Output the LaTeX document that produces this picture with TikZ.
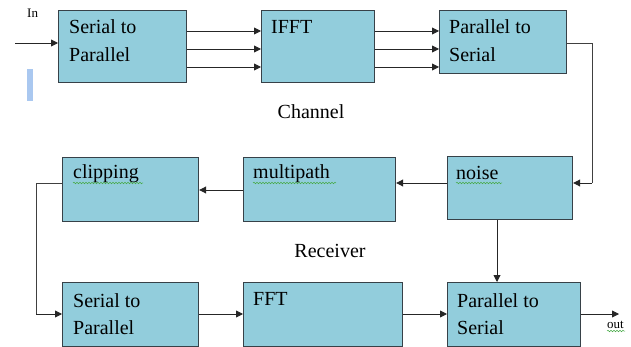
\documentclass[tikz,border=0pt]{standalone}
\usepackage{fontspec}
\setmainfont{Liberation Serif}
\usetikzlibrary{arrows.meta,decorations.pathmorphing}
\definecolor{boxfill}{RGB}{146,205,220}
\definecolor{boxline}{RGB}{55,65,72}
\definecolor{barblue}{RGB}{170,200,240}
\definecolor{wavy}{RGB}{70,170,70}
\tikzset{
  blk/.style={draw=boxline, line width=1.2pt, fill=boxfill},
  lbl/.style={anchor=base west, inner sep=0pt, font=\fontsize{20}{24}\selectfont},
  sectitle/.style={anchor=base, inner sep=0pt, font=\fontsize{20}{24}\selectfont},
  small/.style={anchor=base west, inner sep=0pt, font=\fontsize{13}{15}\selectfont},
  conn/.style={draw=black!85, line width=0.9pt, -{Triangle[length=7pt,width=7pt]}},
  plain/.style={draw=black!75, line width=0.9pt},
  spell/.style={draw=wavy, line width=0.5pt, decorate, decoration={snake, amplitude=0.8pt, segment length=3pt}}
}
\begin{document}
\begin{tikzpicture}[x=1pt,y=-1pt]
\useasboundingbox (0,0) rectangle (631,347);
% boxes
\node[blk, minimum width=128pt, minimum height=72pt, anchor=north west, inner sep=0pt] (sp1) at (58,10) {};
\node[blk, minimum width=113pt, minimum height=72pt, anchor=north west, inner sep=0pt] (ifft) at (261,10) {};
\node[blk, minimum width=127pt, minimum height=63pt, anchor=north west, inner sep=0pt] (ps1) at (439,10) {};
\node[blk, minimum width=125pt, minimum height=63pt, anchor=north west, inner sep=0pt] (noise) at (447,156) {};
\node[blk, minimum width=152pt, minimum height=64pt, anchor=north west, inner sep=0pt] (mp) at (243,157) {};
\node[blk, minimum width=136pt, minimum height=64pt, anchor=north west, inner sep=0pt] (clip) at (62,157) {};
\node[blk, minimum width=136pt, minimum height=64pt, anchor=north west, inner sep=0pt] (sp2) at (62,282) {};
\node[blk, minimum width=159pt, minimum height=64pt, anchor=north west, inner sep=0pt] (fft) at (243,282) {};
\node[blk, minimum width=133pt, minimum height=64pt, anchor=north west, inner sep=0pt] (ps2) at (447,282) {};
% texts
\node[lbl] (t1a) at (69,34) {Serial to};
\node[lbl] (t1b) at (69,62) {Parallel};
\node[lbl] (t2) at (271,34) {IFFT};
\node[lbl] (t3a) at (449,34) {Parallel to};
\node[lbl] (t3b) at (449,62) {Serial};
\node[lbl] (t4) at (456,180) {noise};
\node[lbl] (t5) at (253,179) {multipath};
\node[lbl] (t6) at (73,179) {clipping};
\node[lbl] (t7a) at (73,307) {Serial to};
\node[lbl] (t7b) at (73,334) {Parallel};
\node[lbl] (t8) at (253,305) {FFT};
\node[lbl] (t9a) at (457,307) {Parallel to};
\node[lbl] (t9b) at (457,334) {Serial};
\node[sectitle] (chan) at (311,119) {Channel};
\node[sectitle] (recv) at (330,258) {Receiver};
\node[small] (inlbl) at (27,18) {In};
\node[small] (outlbl) at (607,328) {out};
% spelling marks
\draw[spell] (t4.base west) ++(0,3) -- ++(46,0);
\draw[spell] (t5.base west) ++(0,4) -- ++(83,0);
\draw[spell] (t6.base west) ++(0,4) -- ++(70,0);
\draw[spell] (outlbl.base west) ++(0,3) -- ++(18,0);
% blue bar
\fill[barblue] (27,69) rectangle (33,101);
% connectors
\coordinate (inS) at (15,43);
\draw[conn] (inS) -- (sp1.west |- inS);
\foreach \yy in {31,49,67}{
  \draw[conn] (sp1.east |- 0,\yy) -- (ifft.west |- 0,\yy);
  \draw[conn] (ifft.east |- 0,\yy) -- (ps1.west |- 0,\yy);
}
\coordinate (r1) at (592,43);
\coordinate (r2) at (592,183);
\draw[plain] (ps1.east |- r1) -- (r1) -- (r2);
\draw[conn] (r2) -- (noise.east |- r2);
\draw[conn] (noise.west |- 0,183) -- (mp.east |- 0,183);
\draw[conn] (mp.west |- 0,190) -- (clip.east |- 0,190);
\coordinate (l1) at (36,183);
\coordinate (l2) at (36,314);
\draw[plain] (clip.west |- l1) -- (l1) -- (l2);
\draw[conn] (l2) -- (sp2.west |- l2);
\draw[conn] (sp2.east |- 0,314) -- (fft.west |- 0,314);
\draw[conn] (fft.east |- 0,314) -- (ps2.west |- 0,314);
\draw[conn] (noise.south -| 497,0) -- (ps2.north -| 497,0);
\coordinate (outE) at (619,314);
\draw[conn] (ps2.east |- outE) -- (outE);
\end{tikzpicture}
\end{document}
